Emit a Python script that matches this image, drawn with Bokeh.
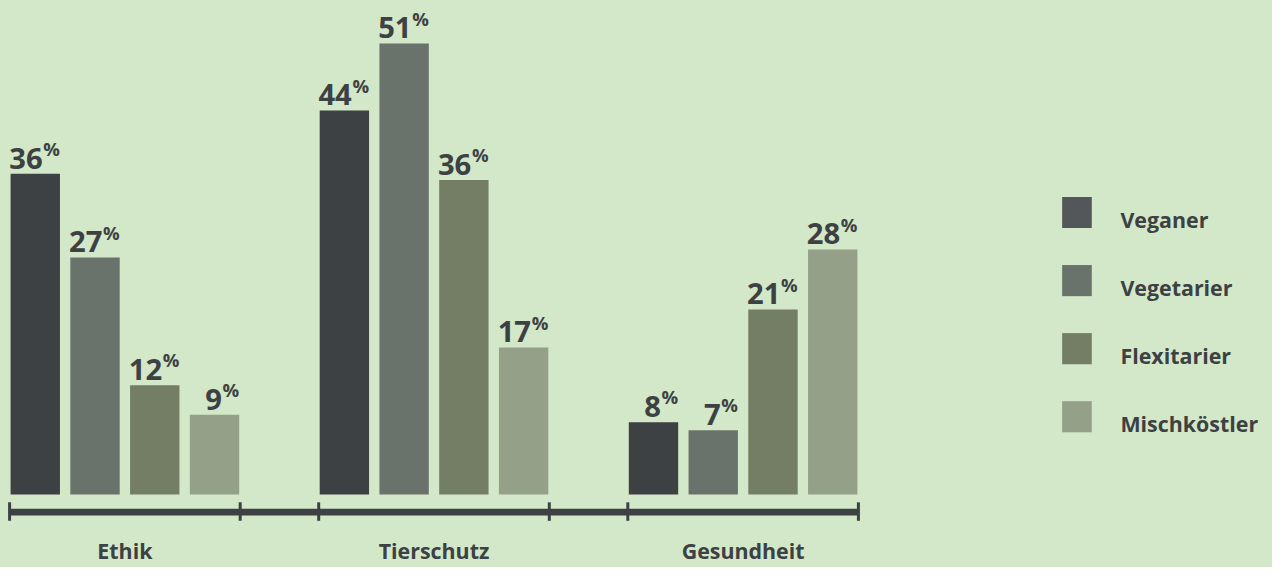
from bokeh.plotting import figure
from bokeh.layouts import row
from bokeh.models import ColumnDataSource, FactorRange, Range1d
from bokeh.core.properties import value
from bokeh.embed import file_html
from bokeh.resources import INLINE

# ---- data -------------------------------------------------------------
groups = ["Ethik", "Tierschutz", "Gesundheit"]
series = ["Veganer", "Vegetarier", "Flexitarier", "Mischköstler"]
veganer = [36.4, 43.6, 8.2]
vegetarier = [26.9, 51.2, 7.3]
flexitarier = [12.4, 35.7, 21.0]
mischkoestler = [9.05, 16.7, 27.8]
series_values = [veganer, vegetarier, flexitarier, mischkoestler]

# ---- style ------------------------------------------------------------
colors = ["#3d4143", "#6a736b", "#737e64", "#94a188"]
legend_colors = ["#53575a", "#6a736b", "#737e64", "#94a188"]
BG = "#d2e8c8"
TEXT = "#3d4143"
FONT = "Open Sans"

W, H = 1272, 567
SX, SY = W / 1288, H / 583
FRAME_W = 867
LEG_W = W - FRAME_W
BASE = 508 * SY            # canvas y of the bar baseline
PX = 9.06 * SY             # pixels per percent
UNIT = 52.0 * SX           # pixels per factor
BAR_W = 50 * SX / UNIT
FP = 8.5 / 52
GP = 79.5 / 52
span_units = len(groups) * len(series) + len(groups) * (len(series) - 1) * FP + (len(groups) - 1) * GP
pad_units = (FRAME_W / UNIT - span_units) / 2

NUM_PX = 30 * SY
PCT_PX = 19 * SY
LAB_PX = 22 * SY
SHIFT = 0.37               # empirical baseline correction (fraction of font size)

x_range = FactorRange(
    factors=[(g, s) for g in groups for s in series],
    factor_padding=FP, group_padding=GP,
    range_padding=pad_units, range_padding_units="absolute",
)
y_range = Range1d(-(H - BASE) / PX, BASE / PX)


def make_fig(width, xr, yr):
    f = figure(
        width=width, height=H, x_range=xr, y_range=yr,
        output_backend="svg", toolbar_location=None,
        x_axis_location=None, y_axis_location=None,
        min_border=0,
        background_fill_color=BG, border_fill_color=BG,
        outline_line_color=None,
        styles={"background-color": BG},
    )
    f.grid.visible = False
    return f


p = make_fig(FRAME_W, x_range, y_range)

for s, vals, c in zip(series, series_values, colors):
    src = ColumnDataSource(dict(
        x=[(g, s) for g in groups],
        top=vals,
        xr=[(g, s, BAR_W / 2) for g in groups],
        num=[f"{round(v)}" for v in vals],
        pct=["%" for _ in vals],
    ))
    p.vbar(x="x", top="top", bottom=0, width=BAR_W, source=src,
           fill_color=c, line_color=None)
    p.text(x="xr", y="top", text="num", source=src,
           text_font=value(FONT), text_font_style="bold",
           text_font_size=f"{NUM_PX:.1f}px", text_color=TEXT,
           text_align="right", text_baseline="alphabetic",
           x_offset=-17.5 * SX, y_offset=-5 * SY - SHIFT * NUM_PX)
    p.text(x="xr", y="top", text="pct", source=src,
           text_font=value(FONT), text_font_style="bold",
           text_font_size=f"{PCT_PX:.1f}px", text_color=TEXT,
           text_align="right", text_baseline="alphabetic",
           x_offset=0, y_offset=-19 * SY - SHIFT * PCT_PX)

# ---- bottom axis line with group ticks ---------------------------------
first, last = series[0], series[-1]
AXIS_Y = -18 * SY / PX
p.segment(x0=[(groups[0], first, -0.5)], y0=[AXIS_Y],
          x1=[(groups[-1], last, 0.5)], y1=[AXIS_Y],
          line_color=TEXT, line_width=7 * SY, line_cap="butt")
tick_x = []
for g in groups:
    tick_x += [(g, first, -0.5), (g, last, 0.5)]
p.segment(x0=tick_x, y0=[-8 * SY / PX] * len(tick_x),
          x1=tick_x, y1=[-27 * SY / PX] * len(tick_x),
          line_color=TEXT, line_width=3, line_cap="butt")

# group labels
p.text(x=groups, y=[0] * len(groups), text=groups,
       text_font=value(FONT), text_font_style="bold",
       text_font_size=f"{LAB_PX:.1f}px", text_color=TEXT,
       text_align="center", text_baseline="alphabetic",
       y_offset=66 * SY - SHIFT * LAB_PX)

# ---- legend (separate panel on the right, pixel coordinates) ----------
lg = make_fig(LEG_W, Range1d(0, LEG_W), Range1d(H, 0))

idx = list(range(len(series)))
LEG_X0 = 1075 * SX - FRAME_W
LEG_Y0 = 202 * SY
LEG_STEP = 70 * SY
SQ_W, SQ_H = 30 * SX, 32 * SY
leg_src = ColumnDataSource(dict(
    cx=[LEG_X0 + SQ_W / 2 for i in idx],
    cy=[LEG_Y0 + i * LEG_STEP + SQ_H / 2 for i in idx],
    tx=[1134 * SX - FRAME_W for i in idx],
    ty=[LEG_Y0 + i * LEG_STEP + 31.3 * SY - SHIFT * LAB_PX for i in idx],
    color=legend_colors,
    label=series,
))
lg.rect(x="cx", y="cy", width=SQ_W, height=SQ_H, source=leg_src,
        fill_color="color", line_color=None)
lg.text(x="tx", y="ty", text="label", source=leg_src,
        text_font=value(FONT), text_font_style="bold",
        text_font_size=f"{LAB_PX:.1f}px", text_color=TEXT,
        text_align="left", text_baseline="alphabetic")

layout = row(p, lg, spacing=0, styles={"background-color": BG})
open("out.html", "w").write(file_html(layout, INLINE))
